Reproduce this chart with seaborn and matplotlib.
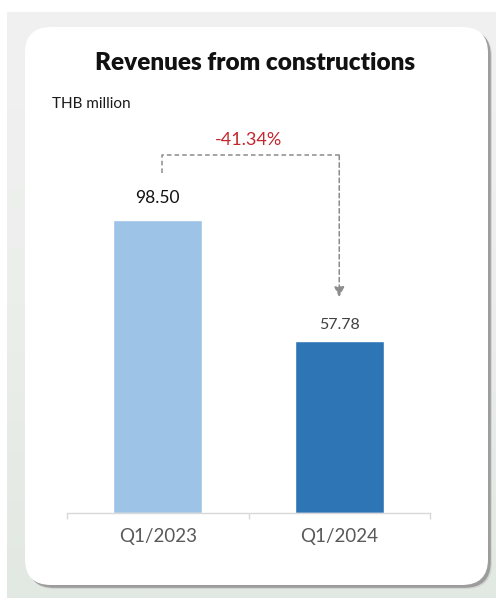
import numpy as np
import pandas as pd
import seaborn as sns
import matplotlib
matplotlib.use("Agg")
import matplotlib.pyplot as plt
from matplotlib.patches import FancyBboxPatch

# Data
periods = ["Q1/2023", "Q1/2024"]
revenues = [98.50, 57.78]
bar_colors = ["#9DC3E6", "#2E75B6"]
title_text = "Revenues from constructions"
unit_text = "THB million"

change_pct = (revenues[1] - revenues[0]) / revenues[0] * 100

W, H = 496, 601
DPI = 100
FONT = ["Lato", "DejaVu Sans"]

sns.set_theme(style="white")
plt.rcParams["font.family"] = FONT

fig = plt.figure(figsize=(W / DPI, H / DPI), dpi=DPI, facecolor="white")

# Backdrop layer in pixel units (y grows downward)
bg = fig.add_axes([0, 0, 1, 1], zorder=0)
bg.set_xlim(0, W)
bg.set_ylim(H, 0)
bg.axis("off")
grad = np.linspace(0, 1, 256).reshape(-1, 1)
cmap = matplotlib.colors.LinearSegmentedColormap.from_list(
    "bgfade", ["#f1f1f1", "#eceeec", "#e2e8e2"])
bg.imshow(grad, extent=(7, W, 598, 12), cmap=cmap, aspect="auto", zorder=0)

# Card with soft drop shadow
for off, col, a in [(4.0, "#c8c8c8", 0.6), (2.8, "#8f8f8f", 0.8)]:
    bg.add_patch(FancyBboxPatch((25 + off, 27 + off), 463, 558,
                                boxstyle="round,pad=0,rounding_size=26",
                                fc=col, ec="none", alpha=a, zorder=1))
bg.add_patch(FancyBboxPatch((25, 27), 463, 558,
                            boxstyle="round,pad=0,rounding_size=26",
                            fc="white", ec="none", zorder=2))

bg.text(255, 63, title_text, ha="center", va="center", fontsize=17.5,
        fontweight="heavy", color="#111111", zorder=3)
bg.text(52, 104, unit_text, ha="left", va="center", fontsize=11,
        color="#1a1a1a", zorder=3)

# Chart axes: 67..430 px wide, baseline at 513 px
px_per_unit = 2.975
y_max = 130
ax_left, ax_right, base = 67, 430, 513
ax_top = base - y_max * px_per_unit
ax = fig.add_axes([ax_left / W, (H - base) / H,
                   (ax_right - ax_left) / W, (base - ax_top) / H], zorder=5)
ax.patch.set_alpha(0)

df = pd.DataFrame({"period": periods, "revenue": revenues})
sns.barplot(data=df, x="period", y="revenue", hue="period",
            palette=bar_colors, legend=False, width=0.49,
            saturation=1, ax=ax)

ax.set_xlim(-0.5, 1.5)
ax.set_ylim(0, y_max)
ax.set_xlabel("")
ax.set_ylabel("")
ax.set_yticks([])
for s in ["top", "right", "left"]:
    ax.spines[s].set_visible(False)
ax.spines["bottom"].set_color("#d9d9d9")
ax.spines["bottom"].set_linewidth(1.0)

ax.set_xticks([0, 1])
ax.set_xticklabels(periods)
ax.set_xticks([-0.5, 0.5, 1.5], minor=True)
ax.tick_params(axis="x", which="major", length=0, pad=11,
               labelsize=13.5, labelcolor="#595959")
ax.tick_params(axis="x", which="minor", length=4, width=1,
               color="#d9d9d9", direction="out", bottom=True)

# Value labels
ax.text(0, revenues[0] + 7.4, f"{revenues[0]:.2f}", ha="center", va="center",
        fontsize=12.5, color="#111111")
ax.text(1, revenues[1] + 5.4, f"{revenues[1]:.2f}", ha="center", va="center",
        fontsize=11.5, color="#404040")

# Change connector
top_y = revenues[0] + 21.8
ax.plot([0.025, 0.025, 1.0], [revenues[0] + 15.8, top_y, top_y],
        ls=(0, (3, 2)), color="#8c8c8c", lw=1.1, clip_on=False)
ax.annotate("", xy=(1.0, revenues[1] + 14.8), xytext=(1.0, top_y),
            arrowprops=dict(arrowstyle="-|>,head_length=0.5,head_width=0.25",
                            ls=(0, (3, 2)), color="#8c8c8c", lw=1.1,
                            shrinkA=0, shrinkB=0),
            annotation_clip=False)
ax.text(0.5, top_y + 5.2, f"{change_pct:.2f}%", ha="center", va="center",
        fontsize=13, color="#c4262e", clip_on=False)

fig.savefig("out.png", dpi=DPI, facecolor="white")
